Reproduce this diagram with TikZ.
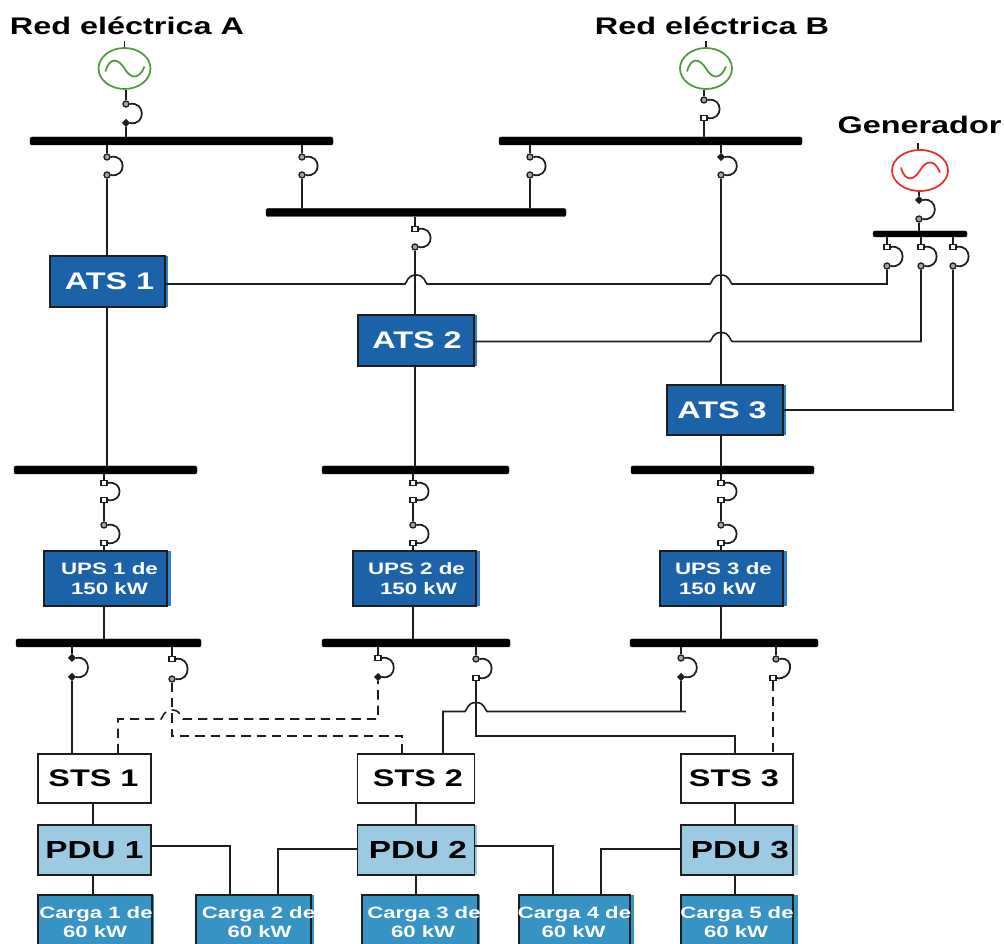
\documentclass[tikz,border=0pt]{standalone}
\usepackage{fontspec}
\setmainfont[FakeStretch=1.35]{Liberation Sans}
\usetikzlibrary{shapes.geometric}
\definecolor{atsblue}{HTML}{1B62A8}
\definecolor{atsedge}{HTML}{2F80CC}
\definecolor{pdublue}{HTML}{9CCAE2}
\definecolor{loadblue}{HTML}{3693C4}
\definecolor{genred}{HTML}{EE2C2C}
\definecolor{gengreen}{HTML}{4E9A3C}
\definecolor{ink}{HTML}{1E1E1E}
\tikzset{
  wire/.style={draw=ink,line width=1.2pt},
  dashwire/.style={draw=ink,line width=1.2pt,dash pattern=on 7pt off 4.5pt},
  wh/.style 2 args={minimum width=#1*0.75pt,minimum height=#2*0.75pt},
  busbar/.style={fill=black,draw=black,line width=0.3pt,rounded corners=1.5pt,inner sep=0pt},
  box/.style={draw=ink,line width=1.2pt,inner sep=0pt,align=center,font=\bfseries},
  atsbox/.style={box,fill=atsblue,text=white,font=\bfseries\fontsize{18}{22}\selectfont},
  upsbox/.style={box,fill=atsblue,text=white,font=\bfseries\fontsize{12.4}{15}\selectfont},
  stsbox/.style={box,fill=white,text=black,font=\bfseries\fontsize{18}{22}\selectfont},
  pdubox/.style={box,fill=pdublue,text=black,font=\bfseries\fontsize{18.5}{22}\selectfont},
  loadbox/.style={box,fill=loadblue,text=white,font=\bfseries\fontsize{12.3}{14.3}\selectfont},
  title/.style={inner sep=0pt,font=\bfseries\fontsize{18}{20}\selectfont},
  gensym/.style={ellipse,draw=#1,line width=1.3pt,fill=white,inner sep=0pt},
  sq/.style={rectangle,draw=ink,fill=white,line width=0.9pt,minimum width=4.5pt,minimum height=4pt,inner sep=0pt},
  circ/.style={circle,draw=ink,fill=gray!70,line width=1pt,minimum size=4.5pt,inner sep=0pt},
  dia/.style={diamond,draw=ink,fill=ink,line width=0.5pt,minimum size=5.5pt,inner sep=0pt},
  brkarc/.style={draw=ink,line width=1.3pt},
}
\newcommand{\brk}[7]{%
  \node[#6] (#1-t) at (#2,#3) {};
  \node[#7] (#1-b) at (#4,#5) {};
  \draw[brkarc] (#1-t.east) .. controls +(16,-3) and +(16,3) .. (#1-b.east);}
\newcommand{\jump}[2]{-- ({#1-11},#2) .. controls ({#1-9},{#2-1}) and ({#1-9},{#2-9}) .. (#1,{#2-9}) .. controls ({#1+9},{#2-9}) and ({#1+9},{#2-1}) .. ({#1+11},#2)}
\newcommand{\sinewave}[2]{\draw[#2,line width=1.3pt,shift={(#1)}] (-19,3) .. controls (-15,-12) and (-6,-10) .. (0,0) .. controls (6,11) and (15,11) .. (20,-2);}
% a line of text centred on the box and moved sideways by #1 px
\newcommand{\nudged}[2]{\makebox[0pt]{\hspace*{\dimexpr#1pt*3/2\relax}#2}}
\begin{document}
\begin{tikzpicture}[x=0.75pt,y=-0.75pt]
\useasboundingbox (0,0) rectangle (1004,944);
% titles
\node[title] (tA) at (127,26) {Red eléctrica A};
\node[title] (tB) at (712,26) {Red eléctrica B};
\node[title] (tG) at (919.5,125) {Generador};
% generators
\node[gensym=gengreen,wh={52}{41}] (genA) at (124.5,68.5) {};
\node[gensym=gengreen,wh={52}{41}] (genB) at (706,68.5) {};
\node[gensym=genred,wh={56}{41}] (genG) at (920,170.5) {};
\sinewave{genA.center}{gengreen}
\sinewave{genB.center}{gengreen}
\sinewave{genG.center}{genred,yscale=-1}
\coordinate (sA) at (124.5,41);
\coordinate (sB) at (706,41);
\coordinate (sG) at (918,143);
\draw[wire] (genA.north) -- (sA);
\draw[wire] (genB.north) -- (sB);
\draw[wire] (genG.north -| sG) -- (sG);
% bars
\node[busbar,wh={303}{8}] (busA) at (181.5,141) {};
\node[busbar,wh={303}{8}] (busB) at (650.5,141) {};
\node[busbar,wh={300}{8}] (busC) at (416,212.5) {};
\node[busbar,wh={94}{6}] (busG) at (920,234) {};
\node[busbar,wh={183}{8}] (r1a) at (105.5,470) {};
\node[busbar,wh={187}{8}] (r1b) at (415.5,470) {};
\node[busbar,wh={183}{8}] (r1c) at (722.5,470) {};
\node[busbar,wh={185}{8}] (r2a) at (108.5,643) {};
\node[busbar,wh={188}{8}] (r2b) at (416,643) {};
\node[busbar,wh={188}{8}] (r2c) at (724,643) {};
% light edges at right of boxes
\fill[atsedge] (160,256) rectangle (168,307);
\fill[atsedge] (470,315) rectangle (477,366);
\fill[atsedge] (778,385) rectangle (786,435);
\fill[atsedge] (162,551) rectangle (171,606);
\fill[atsedge] (470,551) rectangle (480,606);
\fill[atsedge] (778,551) rectangle (787,606);
\fill[pdublue] (470,825) rectangle (477,875);
\fill[pdublue] (788,825) rectangle (798,875);
\fill[loadblue] (148,895) rectangle (154,944);
\fill[loadblue] (306,895) rectangle (314,944);
\fill[loadblue] (474,895) rectangle (480,944);
\fill[loadblue] (626,895) rectangle (634,944);
\fill[loadblue] (790,895) rectangle (798,944);
% boxes
\node[atsbox,wh={115}{51}] (ats1) at (107.5,281.5) {\nudged{2}{ATS 1}};
\node[atsbox,wh={116}{51}] (ats2) at (416,340.5) {\nudged{1}{ATS 2}};
\node[atsbox,wh={116}{50}] (ats3) at (725,410) {\nudged{-3}{ATS 3}};
\node[upsbox,wh={123}{55}] (ups1) at (105.5,578.5) {\nudged{4}{UPS 1 de}\\\nudged{4}{150 kW}};
\node[upsbox,wh={123}{55}] (ups2) at (414.5,578.5) {\nudged{2}{UPS 2 de}\\\nudged{4}{150 kW}};
\node[upsbox,wh={123}{55}] (ups3) at (721.5,578.5) {\nudged{2}{UPS 3 de}\\\nudged{-4}{150 kW}};
\node[stsbox,wh={113}{49}] (sts1) at (94.5,778.5) {\nudged{-1}{STS 1}};
\node[stsbox,wh={117}{49}] (sts2) at (416,778.5) {\nudged{2}{STS 2}};
\node[stsbox,wh={112}{49}] (sts3) at (737,778.5) {\nudged{-3}{STS 3}};
\node[pdubox,wh={113}{50}] (pdu1) at (94.5,850) {\nudged{0}{PDU 1}};
\node[pdubox,wh={117}{50}] (pdu2) at (416,850) {\nudged{2}{PDU 2}};
\node[pdubox,wh={112}{50}] (pdu3) at (737,850) {\raisebox{-2pt}{\nudged{3}{PDU 3}}};
\node[loadbox,wh={114}{55}] (c1) at (95,922.5) {\nudged{1}{Carga 1 de}\\\nudged{0}{60 kW}};
\node[loadbox,wh={115}{55}] (c2) at (253.5,922.5) {\nudged{5}{Carga 2 de}\\\nudged{6}{60 kW}};
\node[loadbox,wh={116}{55}] (c3) at (420,922.5) {\nudged{4}{Carga 3 de}\\\nudged{3}{60 kW}};
\node[loadbox,wh={111}{55}] (c4) at (574.5,922.5) {\nudged{0}{Carga 4 de}\\\nudged{-1}{60 kW}};
\node[loadbox,wh={112}{55}] (c5) at (737,922.5) {\nudged{0}{Carga 5 de}\\\nudged{-1}{60 kW}};
% breakers
\brk{gA}{126}{104}{126}{123}{circ}{dia}
\brk{gB}{704}{100}{704}{118}{circ}{sq}
\brk{gG}{919}{200}{919}{219}{dia}{circ}
\brk{a1}{107}{157}{107}{175}{circ}{circ}
\brk{a2}{302}{157}{302}{175}{circ}{circ}
\brk{b1}{530}{157}{530}{175}{circ}{circ}
\brk{b2}{721}{157}{721}{175}{dia}{circ}
\brk{cc}{415}{229}{415}{247}{sq}{circ}
\brk{g1}{887}{247}{887}{266}{sq}{circ}
\brk{g2}{921}{247}{921}{266}{sq}{circ}
\brk{g3}{953}{247}{953}{266}{sq}{circ}
\brk{u1a}{104}{483}{104}{500}{sq}{sq}
\brk{u1b}{104}{525}{104}{543}{circ}{sq}
\brk{u2a}{413}{483}{413}{500}{sq}{sq}
\brk{u2b}{413}{525}{413}{543}{circ}{sq}
\brk{u3a}{721}{483}{721}{500}{sq}{sq}
\brk{u3b}{721}{525}{721}{543}{circ}{sq}
\brk{l1}{72}{658}{72}{677}{dia}{dia}
\brk{l2}{172}{659}{172}{679}{sq}{circ}
\brk{l3}{378}{658}{378}{677}{sq}{dia}
\brk{l4}{476}{659}{476}{678}{circ}{sq}
\brk{l5}{681}{658}{681}{677}{circ}{dia}
\brk{l6}{776}{659}{773}{678}{circ}{sq}
% stems
\draw[wire] (genA.south -| gA-t) -- (gA-t);
\draw[wire] (gA-b) -- (busA.north -| gA-b);
\draw[wire] (genB.south -| gB-t) -- (gB-t);
\draw[wire] (gB-b) -- (busB.north -| gB-b);
\draw[wire] (genG.south -| gG-t) -- (gG-t);
\draw[wire] (gG-b) -- (busG.north -| gG-b);
\draw[wire] (busA.south -| a1-t) -- (a1-t);
\draw[wire] (busA.south -| a2-t) -- (a2-t);
\draw[wire] (busB.south -| b1-t) -- (b1-t);
\draw[wire] (busB.south -| b2-t) -- (b2-t);
\draw[wire] (busC.south -| cc-t) -- (cc-t);
\draw[wire] (busG.south -| g1-t) -- (g1-t);
\draw[wire] (busG.south -| g2-t) -- (g2-t);
\draw[wire] (busG.south -| g3-t) -- (g3-t);
\draw[wire] (a2-b) -- (busC.north -| a2-b);
\draw[wire] (b1-b) -- (busC.north -| b1-b);
\draw[wire] (a1-b) -- (ats1.north -| a1-b);
\draw[wire] (cc-b) -- (ats2.north -| cc-b);
\draw[wire] (b2-b) -- (ats3.north -| b2-b);
\draw[wire] (ats1.south -| a1-b) -- (r1a.north -| a1-b);
\draw[wire] (ats2.south -| cc-b) -- (r1b.north -| cc-b);
\draw[wire] (ats3.south -| b2-b) -- (r1c.north -| b2-b);
\draw[wire] (r1a.south -| u1a-t) -- (u1a-t);
\draw[wire] (u1a-b) -- (u1b-t);
\draw[wire] (u1b-b) -- (ups1.north -| u1b-b);
\draw[wire] (r1b.south -| u2a-t) -- (u2a-t);
\draw[wire] (u2a-b) -- (u2b-t);
\draw[wire] (u2b-b) -- (ups2.north -| u2b-b);
\draw[wire] (r1c.south -| u3a-t) -- (u3a-t);
\draw[wire] (u3a-b) -- (u3b-t);
\draw[wire] (u3b-b) -- (ups3.north -| u3b-b);
\draw[wire] (ups1.south -| u1b-b) -- (r2a.north -| u1b-b);
\draw[wire] (ups2.south -| u2b-b) -- (r2b.north -| u2b-b);
\draw[wire] (ups3.south -| u3b-b) -- (r2c.north -| u3b-b);
\draw[wire] (r2a.south -| l1-t) -- (l1-t);
\draw[wire] (r2a.south -| l2-t) -- (l2-t);
\draw[wire] (r2b.south -| l3-t) -- (l3-t);
\draw[wire] (r2b.south -| l4-t) -- (l4-t);
\draw[wire] (r2c.south -| l5-t) -- (l5-t);
\draw[wire] (r2c.south -| l6-t) -- (l6-t);
% generator feeds
\coordinate (f1) at (887,284);
\coordinate (f2) at (921,341.5);
\coordinate (f3) at (953,410);
\path[wire] (ats1.east |- f1) \jump{416}{284} \jump{721}{284} -- (f1) -- (g1-b);
\path[wire] (ats2.east |- f2) \jump{721}{341.5} -- (f2) -- (g2-b);
\draw[wire] (ats3.east |- f3) -- (f3) -- (g3-b);
% static switch feeds
\coordinate (d1) at (118,719);
\coordinate (d2) at (378,719);
\coordinate (d3) at (172,736);
\coordinate (d4) at (402,736);
\coordinate (k1) at (476,736);
\coordinate (k2) at (735,736);
\coordinate (k3) at (443,711.5);
\coordinate (k4) at (686,711.5);
\draw[wire] (l1-b) -- (sts1.north -| l1-b);
\path[dashwire] (sts1.north -| d1) -- (d1) \jump{172}{719} -- (d2) -- (l3-b);
\draw[dashwire] (l2-b) -- (d3) -- (d4) -- (sts2.north -| d4);
\draw[dashwire] (l6-b) -- (sts3.north -| l6-b);
\draw[wire] (l4-b) -- (k1) -- (k2) -- (sts3.north -| k2);
\path[wire] (sts2.north -| k3) -- (k3) \jump{476}{711.5} -- (k4);
\draw[wire] (l5-b) -- (k4 -| l5-b);
% lower chain
\coordinate (v1) at (93,810);
\coordinate (v2) at (416,810);
\coordinate (v3) at (735,810);
\draw[wire] (sts1.south -| v1) -- (pdu1.north -| v1);
\draw[wire] (sts2.south -| v2) -- (pdu2.north -| v2);
\draw[wire] (sts3.south -| v3) -- (pdu3.north -| v3);
\draw[wire] (pdu1.south -| v1) -- (c1.north -| v1);
\draw[wire] (pdu2.south -| v2) -- (c3.north -| v2);
\draw[wire] (pdu3.south -| v3) -- (c5.north -| v3);
\coordinate (t1) at (230,846);
\coordinate (t2) at (278,849);
\coordinate (t3) at (553,846);
\coordinate (t4) at (601,849);
\draw[wire] (pdu1.east |- t1) -- (t1) -- (c2.north -| t1);
\draw[wire] (pdu2.west |- t2) -- (t2) -- (c2.north -| t2);
\draw[wire] (pdu2.east |- t3) -- (t3) -- (c4.north -| t3);
\draw[wire] (pdu3.west |- t4) -- (t4) -- (c4.north -| t4);
\end{tikzpicture}
\end{document}
